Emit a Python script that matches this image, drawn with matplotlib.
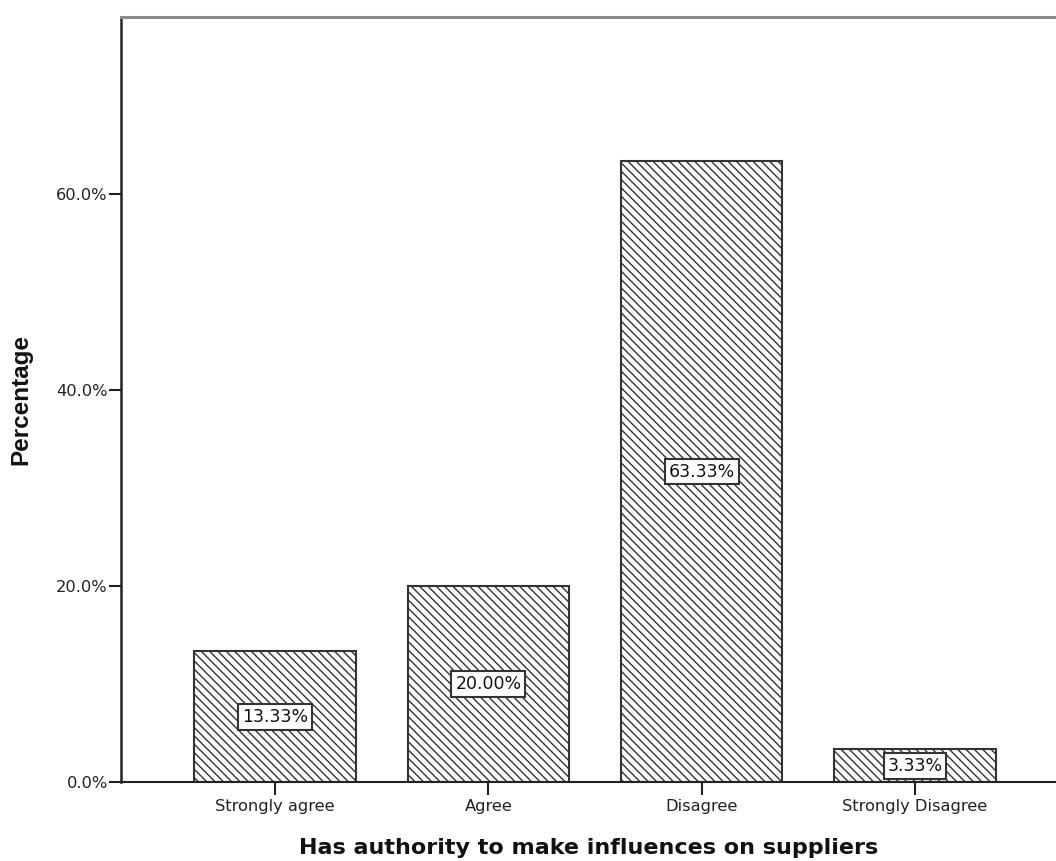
import matplotlib
matplotlib.use("Agg")
import matplotlib.pyplot as plt
from matplotlib.ticker import FuncFormatter

categories = ["Strongly agree", "Agree", "Disagree", "Strongly Disagree"]
percentages = [13.33, 20.00, 63.33, 3.33]
y_ticks = [0, 20, 40, 60]

plt.rcParams["hatch.linewidth"] = 1.0
plt.rcParams["hatch.color"] = "#2b2b2b"

fig = plt.figure(figsize=(10.56, 8.61), dpi=100)
ax = fig.add_axes([121 / 1056, 1 - 782 / 861, 1 - 121 / 1056, (782 - 17) / 861])

x = list(range(len(categories)))
bars = ax.bar(x, percentages, width=0.755, facecolor="white",
              edgecolor="#333333", linewidth=1.5, hatch="\\\\\\\\", zorder=2)

for xi, v in zip(x, percentages):
    ax.text(xi, v / 2, f"{v:.2f}%", ha="center", va="center",
            fontsize=12.5, family="DejaVu Sans", color="#111111", zorder=4,
            bbox=dict(boxstyle="square,pad=0.22", facecolor="white",
                      edgecolor="#333333", linewidth=1.5))

ax.set_xlim(-0.722, 3.661)
ax.set_ylim(0, 78.06)
ax.set_yticks(y_ticks)
ax.yaxis.set_major_formatter(FuncFormatter(lambda v, _: f"{v:.1f}%"))
ax.set_xticks(x)
ax.set_xticklabels(categories)

for lab in ax.get_xticklabels() + ax.get_yticklabels():
    lab.set_family("DejaVu Sans")
    lab.set_fontsize(11.7)
    lab.set_color("#222222")

ax.tick_params(axis="y", length=8.6, width=1.5, color="#222222", pad=1)
ax.tick_params(axis="x", length=9.5, width=1.5, color="#222222", pad=3)

ax.spines["right"].set_visible(False)
ax.spines["left"].set_linewidth(1.8)
ax.spines["left"].set_color("#222222")
ax.spines["bottom"].set_linewidth(1.5)
ax.spines["bottom"].set_color("#222222")
ax.spines["top"].set_linewidth(2.2)
ax.spines["top"].set_color("#8a8a8a")

ax.set_xlabel("Has authority to make influences on suppliers", family="DejaVu Sans",
              fontweight="bold", fontsize=16, labelpad=17, color="#111111")
ax.set_ylabel("Percentage", family="Liberation Sans", fontweight="bold",
              fontsize=17.5, labelpad=17, color="#111111")

fig.savefig("out.png", dpi=100)
